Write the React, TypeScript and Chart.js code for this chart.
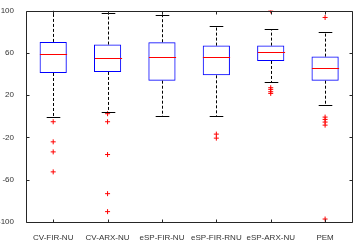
import { useEffect, useRef } from "react";
import { Chart, registerables } from "chart.js";
Chart.register(...registerables);

const categories = ["CV-FIR-NU", "CV-ARX-NU", "eSP-FIR-NU", "eSP-FIR-RNU", "eSP-ARX-NU", "PEM"];
const lowerWhisker = [-1, 4.3, 0, 0, 32, 10.3];
const q1 = [40.9, 41.9, 33.6, 38.7, 52.3, 33.6];
const median = [58.9, 54.8, 56.4, 56.1, 60.5, 45.3];
const q3 = [70.3, 67.8, 70, 66.8, 66.8, 56.4];
const upperWhisker = [99.7, 97.2, 96.2, 85.5, 82.3, 79.8];
const outliers: number[][] = [
  [-5.2, -24.2, -33.7, -52.6],
  [2.4, -5.2, -36.2, -73.2, -90.2],
  [],
  [-16.9, -20.7],
  [99.7, 27, 25.4, 23.2, 21.6],
  [93.4, -0.8, -3, -5.5, -8.4, -97.2],
];
const yTicks = [-100, -60, -20, 20, 60, 100];

const FRAME = "#262626";

const boxPlugin = {
  id: "boxExtras",
  afterDatasetsDraw(chart: any) {
    const { ctx, chartArea, scales } = chart;
    const x = scales.x;
    const y = scales.y;
    const catW = x.getPixelForValue(1) - x.getPixelForValue(0);
    const boxW = catW * 0.5;
    const capW = boxW * 0.5;
    ctx.save();
    ctx.lineWidth = 1;
    categories.forEach((_, i) => {
      const cx = Math.round(x.getPixelForValue(i)) + 0.5;
      // whiskers dashed
      ctx.strokeStyle = "#000";
      ctx.setLineDash([3, 2]);
      ctx.beginPath();
      ctx.moveTo(cx, y.getPixelForValue(q3[i]));
      ctx.lineTo(cx, y.getPixelForValue(upperWhisker[i]));
      ctx.moveTo(cx, y.getPixelForValue(q1[i]));
      ctx.lineTo(cx, y.getPixelForValue(lowerWhisker[i]));
      ctx.stroke();
      ctx.setLineDash([]);
      // caps
      ctx.beginPath();
      const yu = Math.round(y.getPixelForValue(upperWhisker[i])) + 0.5;
      const yl = Math.round(y.getPixelForValue(lowerWhisker[i])) + 0.5;
      ctx.moveTo(cx - capW / 2, yu);
      ctx.lineTo(cx + capW / 2, yu);
      ctx.moveTo(cx - capW / 2, yl);
      ctx.lineTo(cx + capW / 2, yl);
      ctx.stroke();
      // median
      ctx.strokeStyle = "#ff0000";
      const ym = Math.round(y.getPixelForValue(median[i])) + 0.5;
      ctx.beginPath();
      ctx.moveTo(cx - boxW / 2, ym);
      ctx.lineTo(cx + boxW / 2, ym);
      ctx.stroke();
    });
    // frame
    const l = Math.round(chartArea.left) + 0.5;
    const r = Math.round(chartArea.right) + 0.5;
    const t = Math.round(chartArea.top) + 0.5;
    const b = Math.round(chartArea.bottom) + 0.5;
    ctx.strokeStyle = FRAME;
    ctx.beginPath();
    ctx.rect(l, t, r - l, b - t);
    ctx.stroke();
    // inward ticks
    ctx.beginPath();
    yTicks.forEach((v) => {
      const py = Math.round(y.getPixelForValue(v)) + 0.5;
      ctx.moveTo(l, py);
      ctx.lineTo(l + 3, py);
      ctx.moveTo(r, py);
      ctx.lineTo(r - 3, py);
    });
    categories.forEach((_, i) => {
      const px = Math.round(x.getPixelForValue(i)) + 0.5;
      ctx.moveTo(px, b);
      ctx.lineTo(px, b - 3);
      ctx.moveTo(px, t);
      ctx.lineTo(px, t + 3);
    });
    ctx.stroke();
    ctx.restore();
  },
};

export default function App() {
  const ref = useRef<HTMLCanvasElement>(null);
  useEffect(() => {
    document.body.style.margin = "0";
    const outlierPoints: { x: string; y: number }[] = [];
    outliers.forEach((arr, i) => arr.forEach((v) => outlierPoints.push({ x: categories[i], y: v })));
    const chart = new Chart(ref.current!, {
      type: "bar",
      data: {
        labels: categories,
        datasets: [
          {
            type: "bar",
            data: categories.map((_, i) => [q1[i], q3[i]]) as any,
            backgroundColor: "rgba(255,255,255,0)",
            borderColor: "#0000ff",
            borderWidth: 1,
            borderSkipped: false,
            barPercentage: 0.5,
            categoryPercentage: 1,
          },
          {
            type: "line",
            data: outlierPoints as any,
            showLine: false,
            pointStyle: "cross",
            pointRadius: 2.5,
            pointBorderWidth: 1,
            pointBorderColor: "#ff0000",
            pointBackgroundColor: "#ff0000",
          } as any,
        ],
      },
      options: {
        responsive: false,
        animation: false,
        devicePixelRatio: 1,
        layout: { padding: { top: 10.5, right: 7.7, left: 0, bottom: 0 } },
        plugins: { legend: { display: false }, tooltip: { enabled: false } },
        scales: {
          x: {
            type: "category",
            offset: true,
            grid: { display: false },
            border: { display: false },
            ticks: {
              autoSkip: false,
              maxRotation: 0,
              padding: 3,
              color: "#333",
              font: { family: "'Liberation Sans', Arial, sans-serif", size: 8 },
            },
            afterFit: (s: any) => {
              s.height = 23;
            },
          },
          y: {
            min: -100,
            max: 100,
            grid: { display: false },
            border: { display: false },
            afterBuildTicks: (s: any) => {
              s.ticks = yTicks.map((v) => ({ value: v }));
            },
            ticks: {
              padding: 4,
              color: "#333",
              font: { family: "'Liberation Sans', Arial, sans-serif", size: 8 },
            },
            afterFit: (s: any) => {
              s.width = 26;
            },
          },
        },
      },
      plugins: [boxPlugin],
    });
    return () => chart.destroy();
  }, []);
  return <canvas ref={ref} width={360} height={245} />;
}
